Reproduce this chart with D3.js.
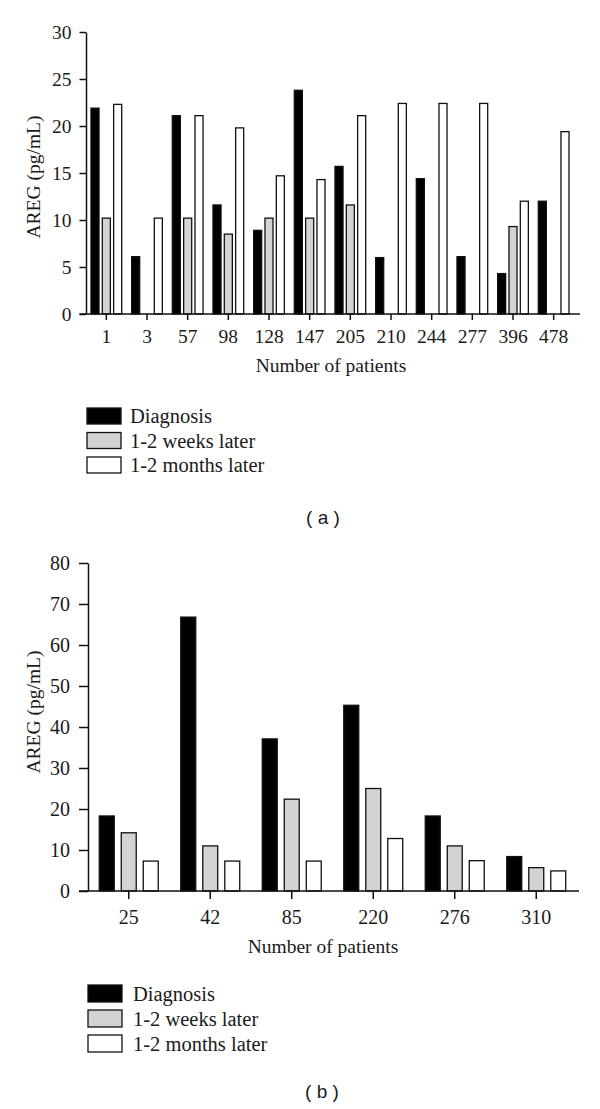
<!DOCTYPE html>
<html>
<head>
<meta charset="utf-8">
<script src="https://cdn.jsdelivr.net/npm/d3@7"></script>
<style>
  html, body { margin: 0; padding: 0; background: #fff; }
  svg { display: block; }
  .serif { font-family: "Liberation Serif", "Times New Roman", serif; fill: #1a1a1a; }
  .sans { font-family: "Liberation Sans", Arial, sans-serif; fill: #1a1a1a; }
</style>
</head>
<body>
<svg id="chart" width="600" height="1109"></svg>
<script>
// ---------- DATA ----------
const seriesNames = ["Diagnosis", "1-2 weeks later", "1-2 months later"];
const seriesFills = ["#000000", "#d3d3d3", "#ffffff"];

// Panel (a)
const patientsA = ["1", "3", "57", "98", "128", "147", "205", "210", "244", "277", "396", "478"];
const diagnosisA = [21.9, 6.1, 21.1, 11.6, 8.9, 23.8, 15.7, 6.0, 14.4, 6.1, 4.3, 12.0];
const weeksA     = [10.2, null, 10.2, 8.5, 10.2, 10.2, 11.6, null, null, null, 9.3, null];
const monthsA    = [22.3, 10.2, 21.1, 19.8, 14.7, 14.3, 21.1, 22.4, 22.4, 22.4, 12.0, 19.4];
const yTicksA = [0, 5, 10, 15, 20, 25, 30];

// Panel (b)
const patientsB = ["25", "42", "85", "220", "276", "310"];
const diagnosisB = [18.3, 66.8, 37.1, 45.3, 18.3, 8.4];
const weeksB     = [14.2, 11.0, 22.4, 25.0, 11.0, 5.7];
const monthsB    = [7.3, 7.3, 7.3, 12.8, 7.4, 4.9];
const yTicksB = [0, 10, 20, 30, 40, 50, 60, 70, 80];

const axisTitleX = "Number of patients";
const axisTitleY = "AREG (pg/mL)";

// ---------- DRAW ----------
const svg = d3.select("#chart");

function panel(cfg) {
  const g = svg.append("g");
  const x = d3.scaleBand().domain(cfg.cats).range([cfg.x0, cfg.x1]);
  const half = x.bandwidth() / 2;
  const inner = d3.scaleBand().domain(seriesNames)
    .range([-cfg.innerHalf, cfg.innerHalf])
    .paddingInner(cfg.innerPad).paddingOuter(cfg.innerPad / 2);
  const y = d3.scaleLinear().domain([0, cfg.yMax]).range([cfg.yBottom, cfg.yTop]);

  const rows = [];
  cfg.cats.forEach((c, i) => {
    cfg.series.forEach((arr, s) => {
      if (arr[i] != null) rows.push({ cat: c, s: s, v: arr[i] });
    });
  });

  g.selectAll("rect.bar").data(rows).join("rect")
    .attr("class", "bar")
    .attr("x", d => x(d.cat) + half + inner(seriesNames[d.s]))
    .attr("width", inner.bandwidth())
    .attr("y", d => y(d.v))
    .attr("height", d => y(0) - y(d.v))
    .attr("fill", d => seriesFills[d.s])
    .attr("stroke", "#111")
    .attr("stroke-width", 1.3);

  // Y axis
  const ya = g.append("g").attr("transform", `translate(${cfg.x0},0)`)
    .call(d3.axisLeft(y).tickValues(cfg.yTicks).tickSize(cfg.yTickSize)
      .tickPadding(cfg.yTickPad).tickSizeOuter(0));
  ya.select(".domain").attr("stroke", "#111").attr("stroke-width", 1.5);
  ya.selectAll(".tick line").attr("stroke", "#111").attr("stroke-width", 1.5);
  ya.selectAll(".tick text").attr("class", "serif").style("font-size", cfg.tickFont + "px");

  // X axis
  const xa = g.append("g").attr("transform", `translate(0,${cfg.yBottom})`)
    .call(d3.axisBottom(x).tickSize(cfg.xTickSize).tickPadding(cfg.xTickPad).tickSizeOuter(0));
  xa.select(".domain").remove();
  xa.selectAll(".tick line").attr("stroke", "#111").attr("stroke-width", 1.5);
  xa.selectAll(".tick text").attr("class", "serif").style("font-size", cfg.tickFont + "px");
  g.append("line")
    .attr("x1", cfg.x0 - cfg.yTickSize).attr("x2", cfg.axisRight)
    .attr("y1", y(0)).attr("y2", y(0))
    .attr("stroke", "#111").attr("stroke-width", 1.5);

  // Axis titles
  g.append("text").attr("class", "serif")
    .attr("x", cfg.xTitleX).attr("y", cfg.xTitleY)
    .attr("text-anchor", "middle").style("font-size", cfg.titleFont + "px")
    .text(axisTitleX);
  g.append("text").attr("class", "serif")
    .attr("transform", `translate(${cfg.yTitleX},${cfg.yTitleY}) rotate(-90)`)
    .attr("text-anchor", "middle").style("font-size", cfg.titleFont + "px")
    .text(axisTitleY);

  // Legend
  const lg = g.append("g");
  seriesNames.forEach((name, i) => {
    lg.append("rect")
      .attr("x", cfg.legX).attr("y", cfg.legY + i * cfg.legStep)
      .attr("width", cfg.legW).attr("height", cfg.legH)
      .attr("fill", seriesFills[i]).attr("stroke", "#111").attr("stroke-width", 1.3);
    lg.append("text").attr("class", "serif")
      .attr("x", cfg.legTextX).attr("y", cfg.legY + i * cfg.legStep + cfg.legH - 1)
      .style("font-size", cfg.legFont + "px")
      .text(name);
  });

  // Panel label
  g.append("text").attr("class", "sans")
    .attr("x", cfg.labX).attr("y", cfg.labY)
    .attr("text-anchor", "middle").style("font-size", "19px")
    .attr("xml:space", "preserve")
    .text(cfg.label);
}

panel({
  cats: patientsA, series: [diagnosisA, weeksA, monthsA], yMax: 30, yTicks: yTicksA,
  x0: 86, x1: 574, axisRight: 580, yTop: 32, yBottom: 314,
  innerHalf: 17, innerPad: 0.29,
  yTickSize: 6.5, yTickPad: 8, xTickSize: 6, xTickPad: 9,
  tickFont: 19.5, titleFont: 19.5,
  xTitleX: 331, xTitleY: 372, yTitleX: 40, yTitleY: 177,
  legX: 87, legY: 408, legStep: 24.5, legW: 34, legH: 16, legTextX: 130, legFont: 20.5,
  label: "( a )", labX: 323, labY: 524
});

panel({
  cats: patientsB, series: [diagnosisB, weeksB, monthsB], yMax: 80, yTicks: yTicksB,
  x0: 88, x1: 577, axisRight: 579, yTop: 563, yBottom: 891,
  innerHalf: 33, innerPad: 0.32,
  yTickSize: 9, yTickPad: 9, xTickSize: 8, xTickPad: 11,
  tickFont: 20, titleFont: 19.5,
  xTitleX: 323, xTitleY: 953, yTitleX: 40, yTitleY: 712,
  legX: 88, legY: 985, legStep: 25, legW: 34, legH: 17, legTextX: 133, legFont: 20.5,
  label: "( b )", labX: 322, labY: 1098
});
</script>
</body>
</html>
